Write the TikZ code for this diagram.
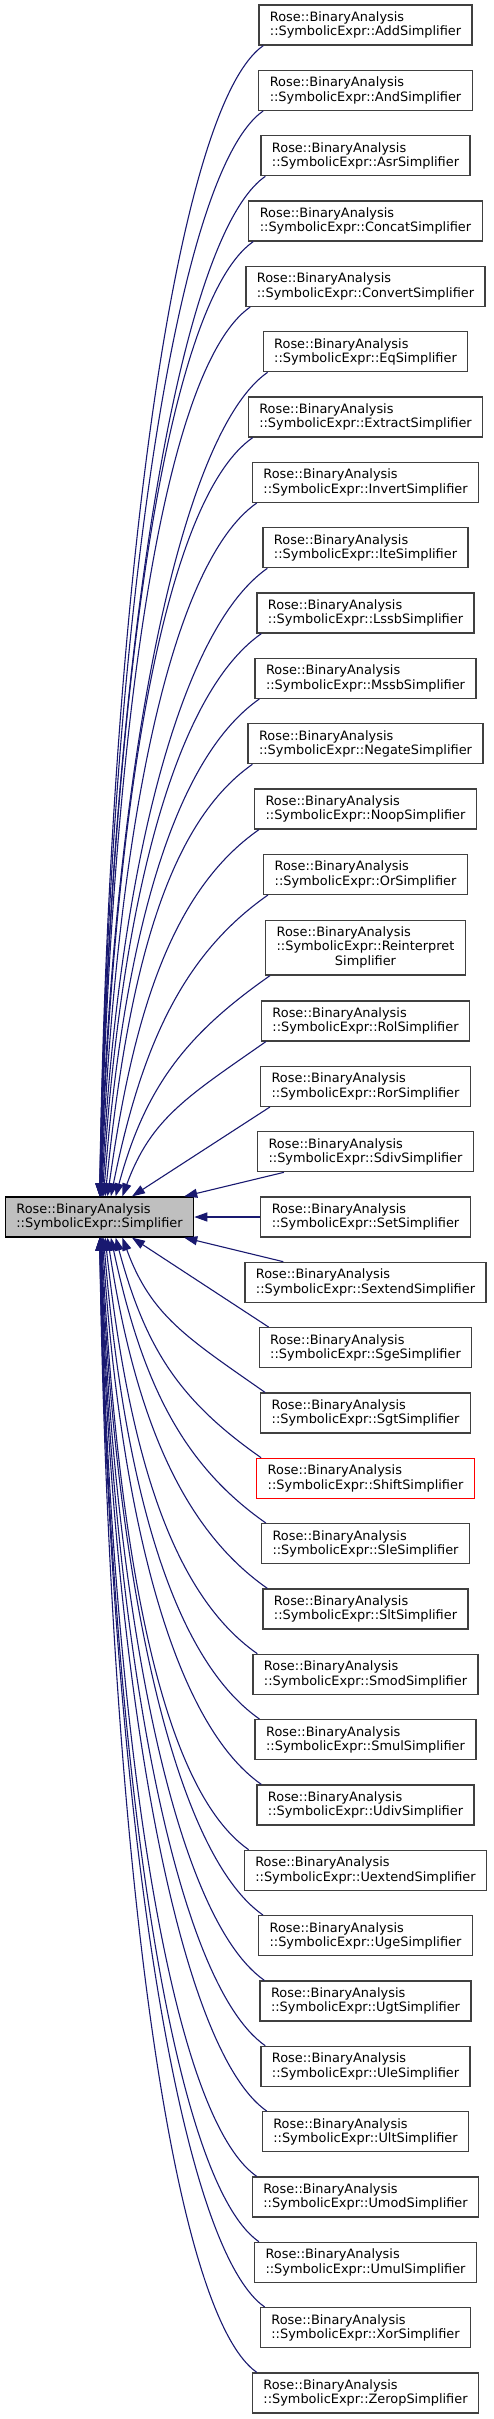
\documentclass[tikz,border=0pt]{standalone}
\usepackage{fontspec}
\setmainfont{DejaVu Sans}
\usetikzlibrary{arrows.meta}
\definecolor{edgeblue}{HTML}{191970}
\definecolor{nodeborder}{HTML}{404040}
\definecolor{mainfill}{HTML}{BFBFBF}
\begin{document}
\begin{tikzpicture}[x=1pt,y=-1pt,
  cls/.style={draw=nodeborder, fill=white, line width=1.3pt, inner xsep=11pt, inner ysep=0pt,
    minimum height=40pt, align=left, font=\fontsize{12.9}{14.3}\selectfont},
  mainnode/.style={cls, draw=black, fill=mainfill},
  hiddennode/.style={cls, draw=red},
  edge/.style={draw=edgeblue, line width=1.1pt, arrows={Triangle[length=13pt,width=9pt]-}}
]
\useasboundingbox (0,0) rectangle (493,2419);

% main node
\node[mainnode] (m) at (99.5,1217) {Rose::BinaryAnalysis\\::SymbolicExpr::Simplifier};

% child nodes
\foreach \i/\y/\nm in {0/25/Add,1/90.33/And,2/155.67/Asr,3/221/Concat,4/286.33/Convert,
  5/351.67/Eq,6/417/Extract,7/482.33/Invert,8/547.67/Ite,9/613/Lssb,10/678.33/Mssb,
  11/743.67/Negate,12/809/Noop,13/874.33/Or,15/1021/Rol,16/1086.33/Ror,17/1151.67/Sdiv,
  18/1217/Set,19/1282.33/Sextend,20/1347.67/Sge,21/1413/Sgt,23/1543.67/Sle,24/1609/Slt,
  25/1674.33/Smod,26/1739.67/Smul,27/1805/Udiv,28/1870.33/Uextend,29/1935.67/Uge,
  30/2001/Ugt,31/2066.33/Ule,32/2131.67/Ult,33/2197/Umod,34/2262.33/Umul,35/2327.67/Xor,
  36/2393/Zerop}{
  \node[cls] (c\i) at (365.5,\y) {Rose::BinaryAnalysis\\::SymbolicExpr::\nm Simplifier};
}
\node[cls, minimum height=54.3pt] (c14) at (365.5,947.85)
  {\begin{tabular}{@{}l@{}}Rose::BinaryAnalysis\\::SymbolicExpr::Reinterpret\\\multicolumn{1}{@{}c@{}}{Simplifier}\end{tabular}};
\node[hiddennode] (c22) at (365.5,1478.33) {Rose::BinaryAnalysis\\::SymbolicExpr::ShiftSimplifier};

% edges from children above
\foreach \i/\y/\h in {0/25/20,1/90.33/20,2/155.67/20,3/221/20,4/286.33/20,5/351.67/20,
  6/417/20,7/482.33/20,8/547.67/20,9/613/20,10/678.33/20,11/743.67/20,12/809/20,
  13/874.33/20,14/947.85/27.15,15/1021/20,16/1086.33/20}{
  \pgfmathtruncatemacro\ed{18-\i}
  \pgfmathsetmacro\eoff{32.5*exp(-0.35*(\ed-2))}
  \pgfmathsetmacro\eW{265-99.5-\eoff}
  \pgfmathsetmacro\eH{1197-\y-\h}
  \pgfmathsetmacro\eg{0.2*min(1,300/\eH)*\eW}
  \pgfmathsetmacro\ehv{0.5*\eH}
  \pgfmathsetmacro\ekx{0.55*\eW}
  \pgfmathsetmacro\eky{0.385*\eW}
  \ifnum\ed=2
    \draw[edge] ([xshift=\eoff pt]m.north) -- ([xshift=10pt]c\i.south west);
  \else
    \draw[edge] ([xshift=\eoff pt]m.north) .. controls +(\eg,-\ehv) and +(-\ekx,\eky) .. ([xshift=5pt]c\i.south west);
  \fi
}

% edges from children below
\foreach \i/\y/\h in {20/1347.67/20,21/1413/20,22/1478.33/20,23/1543.67/20,24/1609/20,
  25/1674.33/20,26/1739.67/20,27/1805/20,28/1870.33/20,29/1935.67/20,30/2001/20,
  31/2066.33/20,32/2131.67/20,33/2197/20,34/2262.33/20,35/2327.67/20,36/2393/20}{
  \pgfmathtruncatemacro\ed{\i-18}
  \pgfmathsetmacro\eoff{32.5*exp(-0.35*(\ed-2))}
  \pgfmathsetmacro\eW{265-99.5-\eoff}
  \pgfmathsetmacro\eH{\y-\h-1237}
  \pgfmathsetmacro\eg{0.2*min(1,300/\eH)*\eW}
  \pgfmathsetmacro\ehv{0.5*\eH}
  \pgfmathsetmacro\ekx{0.55*\eW}
  \pgfmathsetmacro\eky{0.385*\eW}
  \ifnum\ed=2
    \draw[edge] ([xshift=\eoff pt]m.south) -- ([xshift=10pt]c\i.north west);
  \else
    \draw[edge] ([xshift=\eoff pt]m.south) .. controls +(\eg,\ehv) and +(-\ekx,-\eky) .. ([xshift=5pt]c\i.north west);
  \fi
}

% nearest neighbours
\draw[edge] ([xshift=-10pt]m.north east) -- ([xshift=27pt]c17.south west);
\draw[edge] (m.east) -- (c18.west);
\draw[edge] ([xshift=-10pt]m.south east) -- ([xshift=39pt]c19.north west);
\end{tikzpicture}
\end{document}
